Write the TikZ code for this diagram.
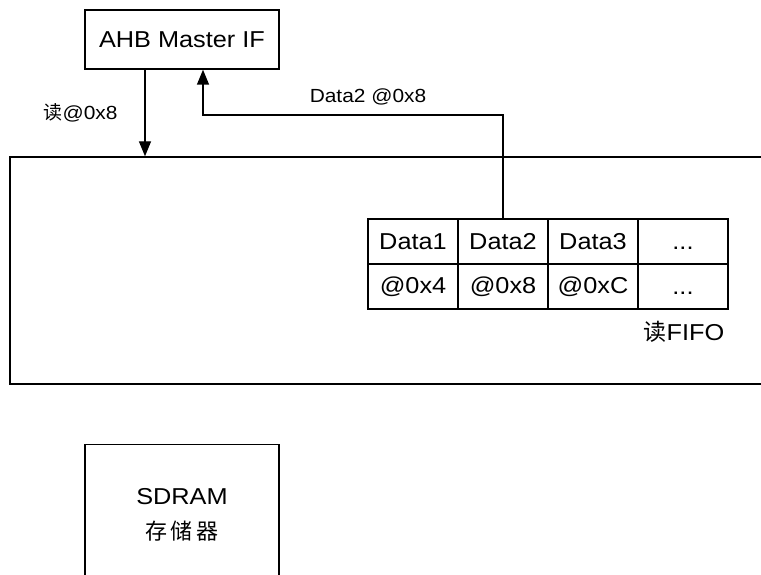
\documentclass[tikz,border=0pt]{standalone}
\usepackage{fontspec}
\setmainfont{Liberation Sans}[FakeStretch=1.1]
\newfontfamily\cjk{Noto Sans CJK SC}
\usetikzlibrary{arrows.meta}
\tikzset{
  box/.style={draw, line width=1.4pt, rectangle, inner sep=0pt, font=\fontsize{23}{26}\selectfont},
  cell/.style={draw, line width=1.4pt, rectangle, inner sep=0pt, minimum width=90pt, minimum height=45pt, font=\fontsize{23}{26}\selectfont},
  lab/.style={inner sep=0pt},
  arr/.style={line width=1.4pt, -{Triangle[length=15pt,width=12pt]}},
  ln/.style={line width=1.4pt}
}
\newcommand{\mydots}{\vphantom{D}.\kern0pt.\kern0pt.}
\begin{document}
\begin{tikzpicture}[x=1pt,y=-1pt]
\useasboundingbox (0,0) rectangle (761,575);
\clip (0,0) rectangle (761,575);
% AHB master
\node[box, minimum width=194pt, minimum height=59pt] (ahb) at (182,39.5) {AHB Master IF};
% big controller box (right side cut off)
\node[box, minimum width=790pt, minimum height=227pt] (ctrl) at (405,270.5) {};
% FIFO table
\node[cell] (d1) at (413,241.5) {Data1};
\node[cell] (d2) at (503,241.5) {Data2};
\node[cell] (d3) at (593,241.5) {Data3};
\node[cell] (d4) at (683,241.5) {\mydots};
\node[cell] (a1) at (413,286.5) {@0x4};
\node[cell] (a2) at (503,286.5) {@0x8};
\node[cell] (a3) at (593,286.5) {@0xC};
\node[cell] (a4) at (683,286.5) {\mydots};
\node[lab, font=\fontsize{23}{26}\selectfont] (fifo) at (684,332) {{\cjk 读}FIFO};
% SDRAM
\node[box, minimum width=194pt, minimum height=200pt, anchor=north] (sdram) at (182,444) {};
\node[lab, font=\fontsize{23}{26}\selectfont] (sdt) at (182,497) {SDRAM};
\node[lab, font=\fontsize{22}{24}\selectfont] (sdc) at (182,531) {\cjk 存\,储\,器};
% connectors
\coordinate (rd) at (145,0);
\coordinate (ret) at (203,115);
\draw[arr] (rd |- ahb.south) -- (rd |- ctrl.north);
\draw[arr] (d2.north) |- (ret) -- (ret |- ahb.south);
% labels
\node[lab, font=\fontsize{19}{22}\selectfont] (l1) at (80.5,113) {{\cjk 读}@0x8};
\node[lab, font=\fontsize{19}{22}\selectfont] (l2) at (368,97) {Data2 @0x8};
\end{tikzpicture}
\end{document}
